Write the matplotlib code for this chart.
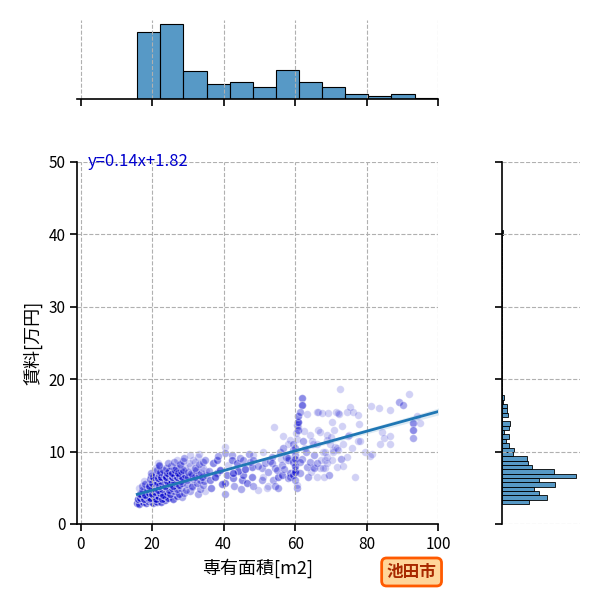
import numpy as np
import matplotlib
matplotlib.use('Agg')
import matplotlib.pyplot as plt

plt.rcParams['font.family'] = ['Noto Sans CJK JP', 'DejaVu Sans']

# 専有面積 [m2] (rows grouped roughly by rent band)
area = [
    15.8, 16.2, 17.4, 18.2, 18.8, 19.9, 20.2, 21.0, 21.4, 22.5, 23.6,
    16.0, 16.5, 17.0, 17.8, 18.5, 19.0, 19.5, 20.4, 21.0, 21.7, 22.6, 23.5, 24.5, 25.9, 27.0, 28.2,
    16.5, 17.4, 18.0, 19.0, 20.0, 20.8, 22.1, 23.0, 24.0, 25.0, 26.2, 27.5, 29.0, 30.5, 32.9,
    16.3, 17.0, 18.6, 19.8, 20.6, 21.5, 22.8, 23.8, 24.6, 25.5, 26.8, 28.0, 29.5, 31.0, 33.5, 34.8,
    17.0, 18.0, 19.2, 20.0, 21.2, 21.9, 22.7, 23.5, 24.3, 25.0, 25.8, 26.6, 27.5, 28.4, 29.8, 31.2, 32.5, 34.2,
    17.6, 19.4, 21.2, 21.6, 22.4, 23.3, 24.1, 25.3, 26.2, 27.2, 28.1, 29.6, 31.5, 33.4, 34.6,
    19.6, 20.3, 20.9, 21.5, 22.0, 22.5, 23.2, 23.9, 24.7, 25.4, 26.1, 26.9, 27.6, 28.3, 29.2, 30.0, 31.0, 32.0, 33.0, 34.0, 35.0,
    19.7, 21.3, 22.3, 23.1, 24.0, 24.8, 25.6, 26.0, 26.5, 27.3, 28.0, 28.6, 29.9, 30.8, 32.2, 33.6, 35.0,
    21.0, 22.0, 23.8, 25.2, 26.6, 27.9, 29.3, 30.7, 32.1, 33.7, 34.3,
    21.6, 22.0, 24.5, 26.0, 27.7, 28.5, 30.2, 31.9, 33.0, 34.3,
    27.0, 28.9, 31.5, 32.8, 34.7, 30.5, 33.2,
    36.1, 37.1, 38.0, 38.0, 40.3, 40.3, 40.3, 40.3, 36.5, 37.5, 39.0, 39.5, 41.0, 36.0, 38.5, 41.2,
    42.2, 42.2, 42.7, 43.6, 44.6, 45.1, 45.5, 45.5, 47.8, 43.0, 44.0, 46.5, 47.0, 46.0, 48.0, 42.5, 44.8, 47.5,
    48.3, 48.3, 48.3, 49.7, 50.6, 50.6, 50.9, 51.1, 51.5, 52.5, 52.5, 52.9, 53.5, 53.5, 53.9, 54.1, 54.3, 52.0, 49.5, 54.3,
    55.3, 55.3, 54.9, 55.7, 56.3, 56.3, 56.5, 56.7, 57.5, 58.1, 58.1, 58.1, 58.5, 58.5, 58.1, 58.5, 59.5, 59.5, 59.5,
    59.5, 59.9, 59.9, 59.9, 59.9, 60.4, 60.4, 60.4, 60.9, 60.9, 60.9, 60.9, 60.0, 60.0, 60.0, 57.0, 56.0, 60.6, 60.2,
    61.8, 61.9, 61.3, 63.2, 62.3, 62.7, 63.2, 63.5, 64.1, 64.1, 64.5, 64.7, 65.1, 65.1, 65.3, 65.3,
    66.0, 66.0, 66.2, 66.2, 66.5, 66.5, 67.0, 67.4, 67.3, 62.0, 63.0, 61.5, 62.5, 61.5, 67.0,
    67.9, 68.3, 68.3, 68.4, 68.8, 68.8, 68.8, 69.0, 69.3, 70.2, 70.2, 70.7, 70.7, 71.2, 71.4, 71.6,
    71.6, 72.1, 72.1, 72.4, 72.5, 73.5, 67.7, 69.5, 70.0, 72.8, 73.0, 68.0, 73.5, 69.8, 71.0,
    74.4, 75.4, 76.3, 77.7, 78.0, 75.2, 77.7, 76.0, 74.4, 76.8, 79.6, 78.2, 74.9,
    81.2, 83.4, 86.6, 84.2, 85.0, 86.5, 86.6, 83.7, 81.4, 81.0,
    89.1, 90.3, 91.9, 93.1, 93.1, 93.1, 94.0, 95.0,
    150.0,
]

# 賃料 [万円]
rent = [
    2.9, 2.8, 3.0, 2.9, 3.2, 3.1, 2.9, 3.2, 3.0, 3.1, 3.3,
    3.4, 3.6, 3.8, 3.5, 3.7, 3.4, 3.6, 3.8, 3.5, 3.9, 3.5, 3.8, 3.6, 3.5, 3.9, 3.7,
    4.2, 4.4, 4.0, 4.3, 4.1, 4.4, 4.3, 4.0, 4.4, 4.2, 4.5, 4.1, 4.3, 4.5, 4.2,
    5.0, 4.7, 4.8, 4.9, 5.0, 4.7, 4.9, 5.1, 4.7, 5.0, 4.8, 5.0, 4.7, 5.1, 4.9, 4.6,
    5.2, 5.5, 5.3, 5.6, 5.5, 5.3, 5.5, 5.2, 5.6, 5.5, 5.3, 5.6, 5.4, 5.7, 5.5, 5.3, 5.6, 5.4,
    6.0, 6.2, 5.8, 6.3, 6.0, 6.2, 5.9, 6.1, 6.0, 6.3, 5.9, 6.1, 6.2, 6.1, 5.9,
    6.6, 6.5, 6.8, 6.4, 6.9, 6.5, 6.7, 6.5, 6.8, 6.5, 6.7, 6.5, 6.8, 6.5, 6.7, 6.5, 6.8, 6.5, 6.7, 6.5, 6.8,
    7.0, 7.4, 7.2, 7.5, 7.0, 7.3, 7.1, 7.5, 7.4, 7.0, 7.3, 7.5, 7.2, 7.0, 7.4, 7.1, 7.3,
    7.8, 8.0, 7.7, 8.0, 7.8, 8.1, 7.8, 8.0, 7.7, 8.0, 7.7,
    8.4, 8.2, 8.4, 8.6, 8.3, 8.7, 8.4, 8.6, 8.3, 8.5,
    8.8, 9.1, 8.9, 9.2, 8.8, 9.5, 9.7,
    6.1, 8.4, 8.8, 7.0, 10.7, 9.8, 5.6, 4.2, 5.0, 6.5, 7.5, 5.5, 6.8, 7.3, 9.4, 8.1,
    9.5, 8.8, 6.3, 8.4, 9.1, 6.1, 6.8, 8.8, 7.9, 5.2, 7.3, 5.6, 9.6, 7.6, 6.5, 7.0, 4.8, 8.5,
    9.5, 8.8, 5.2, 4.7, 7.7, 6.1, 6.5, 10.0, 8.4, 7.2, 5.2, 8.75, 9.3, 8.4, 6.1, 13.4, 5.2, 5.0, 8.0, 7.7,
    6.5, 5.0, 7.5, 10.0, 8.1, 6.8, 12.2, 10.5, 9.3, 11.1, 8.8, 6.3, 11.6, 7.0, 9.1, 6.5, 11.1, 10.2, 8.6,
    6.8, 9.5, 7.5, 7.2, 6.1, 5.0, 5.4, 13.7, 14.1, 13.0, 13.4, 14.9, 8.0, 9.0, 10.5, 7.6, 9.0, 11.8, 12.5,
    17.4, 16.4, 15.5, 15.2, 11.4, 10.45, 7.9, 6.5, 12.3, 8.6, 7.2, 11.4, 11.1, 7.9, 9.5, 7.7,
    15.5, 6.5, 11.0, 8.4, 13.0, 15.5, 12.7, 15.3, 8.9, 9.0, 10.0, 7.0, 12.8, 8.5, 7.7,
    10.0, 8.84, 7.7, 10.0, 12.3, 11.6, 8.4, 9.3, 15.3, 14.05, 8.84, 10.2, 10.0, 10.7, 15.5, 10.45,
    7.9, 15.3, 10.2, 15.15, 18.7, 11.1, 7.7, 6.8, 12.0, 9.0, 13.5, 6.5, 8.0, 11.0, 13.0,
    15.5, 16.1, 15.4, 15.05, 13.8, 12.3, 11.5, 10.45, 9.3, 6.45, 10.0, 11.4, 12.1,
    16.3, 16.0, 15.7, 12.75, 11.9, 12.1, 11.1, 11.1, 9.7, 9.4,
    16.8, 16.5, 17.9, 14.0, 13.0, 11.9, 14.96, 14.0,
    40.0,
]

# 件数 (same area / rent listed several times)
count = [
    4, 4, 4, 4, 4, 4, 3, 4, 3, 4, 4,
    5, 5, 4, 5, 5, 4, 5, 5, 5, 5, 4, 5, 4, 4, 3, 2,
    4, 4, 5, 5, 5, 4, 5, 4, 4, 4, 3, 3, 2, 2, 2,
    1, 2, 3, 3, 3, 4, 3, 3, 3, 3, 3, 2, 2, 2, 2, 1,
    2, 3, 5, 5, 4, 5, 4, 4, 5, 5, 4, 4, 4, 3, 2, 2, 3, 2,
    1, 3, 3, 4, 3, 3, 4, 3, 3, 3, 3, 2, 2, 2, 2,
    2, 5, 2, 4, 4, 5, 5, 6, 5, 6, 5, 5, 5, 5, 3, 3, 3, 3, 3, 3, 2,
    2, 3, 3, 3, 4, 3, 4, 2, 3, 4, 3, 3, 2, 2, 3, 2, 1,
    1, 2, 2, 2, 2, 2, 1, 1, 2, 1, 1,
    1, 2, 2, 2, 2, 2, 1, 1, 2, 2,
    1, 2, 1, 1, 2, 1, 1,
    3, 3, 3, 3, 1, 2, 3, 2, 3, 4, 4, 3, 3, 2, 2, 1,
    2, 3, 3, 3, 2, 3, 3, 2, 3, 2, 4, 3, 2, 4, 3, 4, 2, 2,
    1, 2, 2, 1, 2, 2, 1, 1, 2, 2, 1, 2, 2, 2, 2, 1, 2, 1, 2, 2,
    3, 2, 2, 2, 2, 3, 1, 2, 2, 1, 2, 2, 1, 3, 2, 2, 2, 2, 3,
    3, 2, 3, 4, 2, 2, 1, 2, 5, 3, 1, 3, 3, 3, 2, 2, 1, 1, 1,
    3, 4, 2, 1, 2, 1, 2, 2, 1, 2, 1, 1, 1, 1, 2, 2,
    1, 1, 1, 2, 1, 1, 1, 1, 1, 2, 2, 2, 1, 2, 1,
    1, 1, 1, 1, 1, 1, 1, 1, 1, 1, 1, 1, 1, 1, 1, 1,
    1, 1, 1, 1, 1, 1, 1, 2, 1, 2, 1, 1, 1, 1, 1,
    1, 1, 1, 1, 1, 1, 1, 1, 1, 1, 1, 1, 1,
    1, 1, 1, 1, 1, 1, 1, 1, 1, 1,
    2, 2, 1, 3, 3, 2, 1, 1,
    2,
]

fit_label = 'y=0.14x+1.82'

x = np.repeat(area, count)
y = np.repeat(rent, count)

GRID = dict(ls='--', color='#b0b0b0', lw=0.8)
HIST_FC = (0.122, 0.467, 0.706, 0.75)

fig = plt.figure(figsize=(6, 6), dpi=100)
ax = fig.add_axes([0.1288, 0.1267, 0.6012, 0.6033])
ax_top = fig.add_axes([0.1288, 0.835, 0.6012, 0.132])
ax_right = fig.add_axes([0.836, 0.1267, 0.1305, 0.6033])

# joint: scatter + linear fit with 95% band
ax.scatter(x, y, s=30, color='mediumblue', alpha=0.18, edgecolors='white', linewidths=0.8)

slope, intercept = np.polyfit(x, y, 1)
n = len(x)
resid = y - (slope * x + intercept)
s = np.sqrt(np.sum(resid ** 2) / (n - 2))
xm = x.mean()
sxx = np.sum((x - xm) ** 2)
xg = np.linspace(x.min(), x.max(), 200)
yg = slope * xg + intercept
half = 1.96 * s * np.sqrt(1 / n + (xg - xm) ** 2 / sxx)
ax.fill_between(xg, yg - half, yg + half, color='#1f77b4', alpha=0.15, lw=0)
ax.plot(xg, yg, color='#1f77b4', lw=2)
ax.text(2, 50, fit_label, color='mediumblue', fontsize=12, va='center')

ax.set_xlim(-1, 100)
ax.set_ylim(0, 50)
ax.set_xticks(range(0, 101, 20))
ax.set_yticks(range(0, 51, 10))
ax.grid(True, **GRID)
ax.set_xlabel('専有面積[m2]', fontsize=13)
ax.set_ylabel('賃料[万円]', fontsize=13)
for side in ['top', 'right']:
    ax.spines[side].set_visible(False)

# marginals
xbins = np.arange(x.min(), x.max() + 6.47, 6.47)
ybins = np.arange(y.min() - 0.04, y.max() + 0.6, 0.6)
ax_top.hist(x, bins=xbins, color=HIST_FC, edgecolor='black', lw=0.8)
ax_right.hist(y, bins=ybins, orientation='horizontal', color=HIST_FC, edgecolor='black', lw=0.6)

ax_top.set_xlim(-1, 100)
ax_top.set_xticks(range(0, 101, 20))
ax_top.tick_params(axis='x', labelbottom=False)
ax_top.tick_params(axis='y', left=False, labelleft=False)
ax_top.grid(True, axis='x', **GRID)
for side in ['top', 'right', 'left']:
    ax_top.spines[side].set_visible(False)

ax_right.set_ylim(0, 50)
ax_right.set_yticks(range(0, 51, 10))
ax_right.tick_params(axis='y', labelleft=False)
ax_right.tick_params(axis='x', bottom=False, labelbottom=False)
ax_right.grid(True, axis='y', **GRID)
for side in ['top', 'right', 'bottom']:
    ax_right.spines[side].set_visible(False)

for a in [ax, ax_top, ax_right]:
    a.tick_params(length=5, width=1.2, labelsize=11)
    for sp in a.spines.values():
        sp.set_linewidth(1.2)

fig.text(0.686, 0.0467, '池田市', fontsize=12, fontweight='bold', color='#a82800',
         ha='center', va='center',
         bbox=dict(boxstyle='round,pad=0.3', facecolor='#ffd59a', edgecolor='#ff5a00', lw=2))

fig.savefig('out.png', dpi=100)
